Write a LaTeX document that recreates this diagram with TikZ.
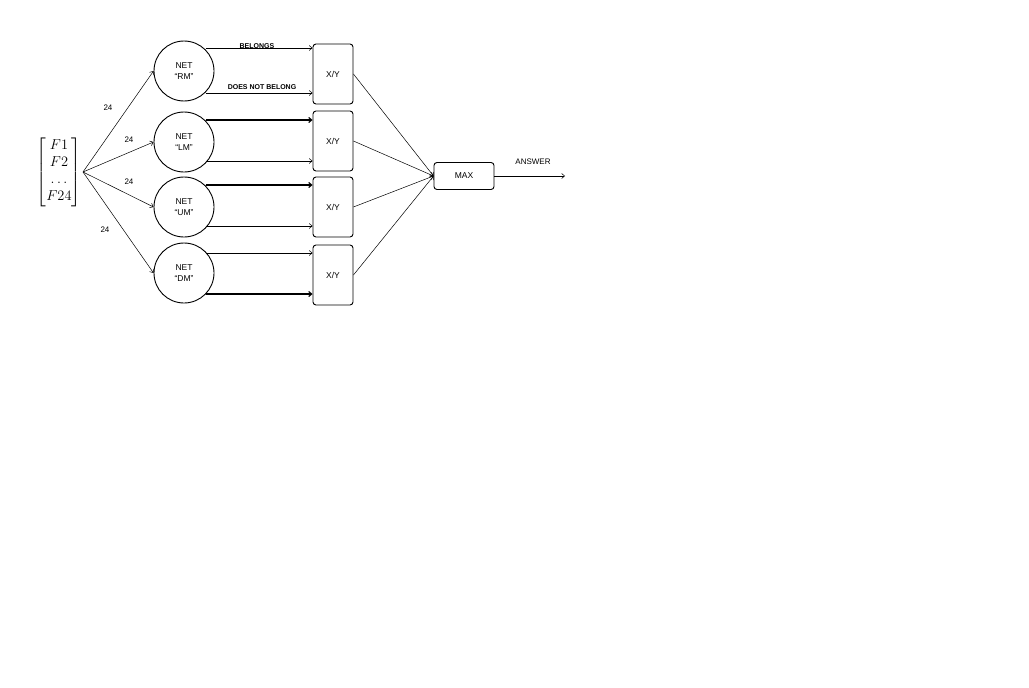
\documentclass[tikz,border=0pt]{standalone}
\usepackage{fontspec}
\setmainfont{Liberation Sans}
\usepackage{amsmath}
\usetikzlibrary{arrows.meta}
\begin{document}
\begin{tikzpicture}[x=1pt,y=-1pt,
  net/.style={circle,draw,line width=0.9pt,minimum size=60pt,inner sep=0pt,align=center,font=\fontsize{8.5}{10.5}\selectfont},
  xy/.style={draw,rounded corners=3pt,line width=0.9pt,minimum width=40pt,minimum height=60pt,font=\fontsize{8.5}{10}\selectfont},
  arr/.style={-{Straight Barb[length=3pt,width=5pt]},line width=0.5pt},
  lab/.style={font=\fontsize{8}{9}\selectfont},
  blab/.style={font=\bfseries\fontsize{7}{8}\selectfont,inner sep=0pt}]
\useasboundingbox (0,0) rectangle (1029,688);
\node[inner sep=0pt] (vec) at (59,172) {\fontsize{15}{17}\selectfont$\begin{bmatrix}F1\\F2\\\dots\\F24\end{bmatrix}$};
\coordinate (tip) at (83,172);
\node[net] (rm) at (184,71) {NET\\“RM”};
\node[net] (lm) at (184,142) {NET\\“LM”};
\node[net] (um) at (184,207) {NET\\“UM”};
\node[net] (dm) at (184,273) {NET\\“DM”};
\node[xy] (b1) at (333,74) {X/Y};
\node[xy] (b2) at (333,141) {X/Y};
\node[xy] (b3) at (333,207) {X/Y};
\node[xy] (b4) at (333,275) {X/Y};
\node[draw,rounded corners=3pt,line width=0.9pt,minimum width=60pt,minimum height=27pt,font=\fontsize{8.5}{10}\selectfont] (max) at (464,176) {MAX};
\coordinate (out) at (565,176);
\foreach \n in {rm,lm,um,dm} \draw[arr] (tip) -- (\n.west);
\node[lab] at (108,108) {24};
\node[lab] at (129,140) {24};
\node[lab] at (129,182) {24};
\node[lab] at (105,230) {24};
\draw[arr] (rm.north east |- 0,48) -- (b1.west |- 0,48);
\draw[arr] (rm.south east |- 0,93) -- (b1.west |- 0,93);
\node[blab] at (257,46) {BELONGS};
\node[blab] at (262,87) {DOES NOT BELONG};
\draw[arr,line width=1.1pt] (lm.north east |- 0,120) -- (b2.west |- 0,120);
\draw[arr] (lm.south east |- 0,161) -- (b2.west |- 0,161);
\draw[arr,line width=1.1pt] (um.north east |- 0,185) -- (b3.west |- 0,185);
\draw[arr] (um.south east |- 0,226) -- (b3.west |- 0,226);
\draw[arr] (dm.north east |- 0,253) -- (b4.west |- 0,253);
\draw[arr,line width=1.1pt] (dm.south east |- 0,294) -- (b4.west |- 0,294);
\foreach \b in {b1,b2,b3,b4} \draw[arr] (\b.east) -- (max.west);
\draw[arr] (max.east) -- (out);
\node[lab] at (533,162) {ANSWER};
\end{tikzpicture}
\end{document}
